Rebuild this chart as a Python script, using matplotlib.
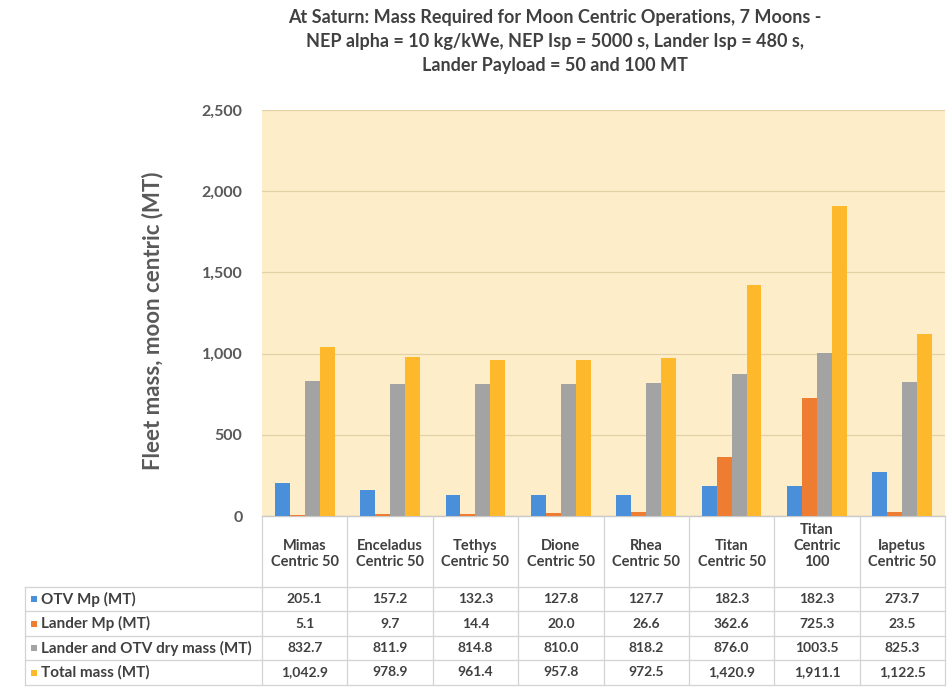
import matplotlib
matplotlib.use('Agg')
import matplotlib.pyplot as plt
import matplotlib.transforms as mtransforms
from matplotlib.patches import Rectangle
from matplotlib.lines import Line2D
import numpy as np

# ---------------- data ----------------
categories = ["Mimas\nCentric 50", "Enceladus\nCentric 50", "Tethys\nCentric 50",
              "Dione\nCentric 50", "Rhea\nCentric 50", "Titan\nCentric 50",
              "Titan\nCentric\n100", "Iapetus\nCentric 50"]
series_names = ["OTV Mp (MT)", "Lander Mp (MT)", "Lander and OTV dry mass (MT)", "Total mass (MT)"]
otv_mp = [205.1, 157.2, 132.3, 127.8, 127.7, 182.3, 182.3, 273.7]
lander_mp = [5.1, 9.7, 14.4, 20.0, 26.6, 362.6, 725.3, 23.5]
dry_mass = [832.7, 811.9, 814.8, 810.0, 818.2, 876.0, 1003.5, 825.3]
total_mass = [1042.9, 978.9, 961.4, 957.8, 972.5, 1420.9, 1911.1, 1122.5]
yticks = [0, 500, 1000, 1500, 2000, 2500]
ytick_labels = ["0", "500", "1,000", "1,500", "2,000", "2,500"]
title_lines = ["At Saturn: Mass Required for Moon Centric Operations, 7 Moons -",
               "NEP alpha = 10 kg/kWe, NEP Isp = 5000 s, Lander Isp = 480 s,",
               "Lander Payload = 50 and 100 MT"]
ylabel = "Fleet mass, moon centric (MT)"

series = [otv_mp, lander_mp, dry_mass, total_mass]
colors = ["#4A8FDA", "#EE7C31", "#A3A3A3", "#FDB92B"]
table_rows = [[f"{v:.1f}" for v in otv_mp],
              [f"{v:.1f}" for v in lander_mp],
              [f"{v:.1f}" for v in dry_mass],
              [f"{v:,.1f}" for v in total_mass]]

# ---------------- figure ----------------
W, H = 947, 687
fig = plt.figure(figsize=(W / 100, H / 100), dpi=100)
fig.patch.set_facecolor("white")
FONT = "Lato"
TXT = "#404040"

ax_l, ax_r, ax_t, ax_b = 262, 945, 110, 516
ax = fig.add_axes([ax_l / W, 1 - ax_b / H, (ax_r - ax_l) / W, (ax_b - ax_t) / H])
ax.set_facecolor("#FDEDC9")

x = np.arange(len(categories))
bw = 0.175
for i, (vals, c) in enumerate(zip(series, colors)):
    ax.bar(x + (i - 1.5) * bw, vals, width=bw, color=c, zorder=3, linewidth=0)

ax.set_xlim(-0.5, len(categories) - 0.5)
ax.set_ylim(0, 2500)
ax.set_yticks(yticks)
ax.set_yticklabels(ytick_labels, fontfamily=FONT, fontweight="bold", fontsize=11.5, color="#595959")
ax.tick_params(axis="y", length=0, pad=14)
ax.set_xticks([])
ax.grid(axis="y", color="#E3D2A6", linewidth=0.9, zorder=0)
for s in ["top", "right", "left"]:
    ax.spines[s].set_visible(False)
ax.spines["bottom"].set_color("#C9C9C9")
ax.spines["bottom"].set_linewidth(1.0)

fig.text(153 / W, 1 - 321 / H, ylabel, rotation=90, ha="center", va="center",
         fontfamily=FONT, fontweight="bold", fontsize=16, color="#595959")

# ---------------- title ----------------
for ty, line in zip([18, 42, 65], title_lines):
    fig.text(555 / W, 1 - ty / H, line, ha="center", va="center", fontfamily=FONT,
             fontweight="bold", fontsize=13, color=TXT)

# ---------------- data table ----------------
tr = mtransforms.blended_transform_factory(ax.transData, fig.transFigure)
lc = "#D3D3D3"
row_edges = [587, 611, 636, 660, 685]
label_left = 25

def fy(py):
    return 1 - py / H

for b in np.arange(len(categories) + 1) - 0.5:
    fig.add_artist(Line2D([b, b], [fy(ax_b), fy(row_edges[-1])], transform=tr, color=lc, lw=0.9))
fig.add_artist(Line2D([label_left / W, label_left / W], [fy(row_edges[0]), fy(row_edges[-1])],
                      transform=fig.transFigure, color=lc, lw=0.9))
for py in row_edges:
    fig.add_artist(Line2D([label_left / W, ax_r / W], [fy(py), fy(py)],
                          transform=fig.transFigure, color=lc, lw=0.9))

for xi, cat in zip(x, categories):
    fig.text(xi, fy(569), cat, transform=tr, ha="center", va="bottom", fontfamily=FONT,
             fontweight="bold", fontsize=10.5, color=TXT, linespacing=1.2)

for r, (name, c, vals) in enumerate(zip(series_names, colors, table_rows)):
    cy = (row_edges[r] + row_edges[r + 1]) / 2
    fig.add_artist(Rectangle(((label_left + 6) / W, fy(cy + 3)), 6 / W, 6 / H,
                             transform=fig.transFigure, facecolor=c, edgecolor="none"))
    fig.text((label_left + 16) / W, fy(cy), name, ha="left", va="center", fontfamily=FONT,
             fontweight="bold", fontsize=11, color=TXT)
    for xi, v in zip(x, vals):
        fig.text(xi, fy(cy), v, transform=tr, ha="center", va="center", fontfamily=FONT,
                 fontweight="bold", fontsize=10, color=TXT)

fig.savefig("out.png", dpi=100, facecolor="white")
